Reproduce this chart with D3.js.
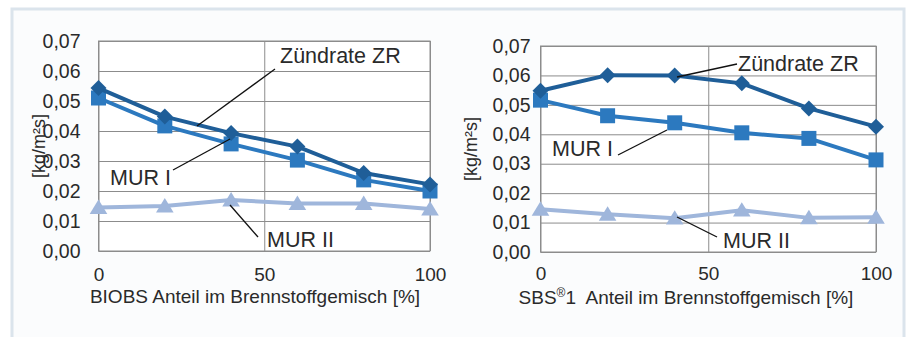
<!DOCTYPE html>
<html>
<head>
<meta charset="utf-8">
<script src="https://cdn.jsdelivr.net/npm/d3@7"></script>
<style>
  body { margin: 0; background: #fff; }
  svg text { font-family: "Liberation Sans", Arial, sans-serif; fill: #2a2a2a; white-space: pre; }
</style>
</head>
<body>
<div id="chart"></div>
<script>
// shares of the fuel mix [%]
var xValues = [0, 20, 40, 60, 80, 100];
var xTicks = [0, 50, 100];
var yTicks = [0, 0.01, 0.02, 0.03, 0.04, 0.05, 0.06, 0.07];

// left chart: BIOBS
var biobsZR = [0.0543, 0.0448, 0.0393, 0.0348, 0.0260, 0.0222];
var biobsMUR1 = [0.0510, 0.0417, 0.0357, 0.0303, 0.0237, 0.0200];
var biobsMUR2 = [0.0145, 0.0150, 0.0170, 0.0158, 0.0158, 0.0140];

// right chart: SBS 1
var sbsZR = [0.0548, 0.0601, 0.0600, 0.0573, 0.0488, 0.0426];
var sbsMUR1 = [0.0516, 0.0463, 0.0439, 0.0405, 0.0386, 0.0313];
var sbsMUR2 = [0.0145, 0.0128, 0.0115, 0.0142, 0.0116, 0.0118];

var seriesNames = ["Zündrate ZR", "MUR I", "MUR II"];
// each title as [before superscript, superscript, after]
var xTitles = [["BIOBS Anteil im Brennstoffgemisch [%]", "", ""],
               ["SBS", "\u00AE", "1  Anteil im Brennstoffgemisch [%]"]];
var yTitle = "[kg/m\u00B2s]";

var W = 907, H = 337;
var comma = d3.formatLocale({decimal: ",", thousands: ".", grouping: [3], currency: ["", "€"]}).format(".2f");

var colors = {zr: "#1f5e98", mur1: "#2c79bf", mur2: "#9fb6db"};

var svg = d3.select("#chart").append("svg")
  .attr("width", W).attr("height", H);

// outer panel frame
svg.append("rect")
  .attr("x", 12).attr("y", 9).attr("width", 892).attr("height", 340)
  .attr("fill", "#fbfcfd").attr("stroke", "#dbe4ec").attr("stroke-width", 3);

// marker shapes
function diamond(r) { return "M0," + (-r) + "L" + r + ",0L0," + r + "L" + (-r) + ",0Z"; }
function square(r) { return "M" + (-r) + "," + (-r) + "h" + (2 * r) + "v" + (2 * r) + "h" + (-2 * r) + "Z"; }
function triangle(r) { return "M0," + (-r) + "L" + (r * 1.1) + "," + (r * 0.8) + "L" + (-r * 1.1) + "," + (r * 0.8) + "Z"; }

function drawPanel(p) {
  var x = d3.scaleLinear().domain([0, 100]).range([p.left, p.right]);
  var y = d3.scaleLinear().domain([0, 0.07]).range([p.bottom, p.top]);
  var g = svg.append("g");

  g.append("rect")
    .attr("x", p.left).attr("y", p.top)
    .attr("width", p.right - p.left).attr("height", p.bottom - p.top)
    .attr("fill", "#fff").attr("stroke", "#8c8c8c");

  var ya = g.append("g")
    .attr("transform", "translate(" + p.left + ",0)")
    .call(d3.axisLeft(y).tickValues(yTicks).tickFormat(comma)
      .tickSize(-(p.right - p.left)).tickPadding(p.yPad));
  ya.select(".domain").remove();
  ya.selectAll("line").attr("stroke", "#8c8c8c");
  ya.selectAll("text").style("font-size", "19.5px");

  var xa = g.append("g")
    .attr("transform", "translate(0," + p.bottom + ")")
    .call(d3.axisBottom(x).tickValues(xTicks).tickFormat(d3.format("d"))
      .tickSize(-(p.bottom - p.top)).tickPadding(p.xPad));
  xa.select(".domain").remove();
  xa.selectAll("line").attr("stroke", "#8c8c8c");
  xa.selectAll("text").style("font-size", "19px");

  var t = g.append("text")
    .attr("x", p.titleX).attr("y", p.titleY)
    .attr("text-anchor", "middle").style("font-size", "19px");
  t.append("tspan").text(p.xTitle[0]);
  if (p.xTitle[1]) {
    t.append("tspan").attr("dy", -7).style("font-size", "12px").text(p.xTitle[1]);
    t.append("tspan").attr("dy", 7).text(p.xTitle[2]);
  }

  g.append("text")
    .attr("transform", "translate(" + p.yTitleX + "," + p.yTitleY + ") rotate(-90)")
    .attr("text-anchor", "middle").style("font-size", "18px")
    .text(yTitle);

  var line = d3.line().x(function(d, i) { return x(xValues[i]); }).y(function(d) { return y(d); });

  var series = [
    {values: p.mur2, color: colors.mur2, shape: triangle, r: 8},
    {values: p.mur1, color: colors.mur1, shape: square, r: 7.5},
    {values: p.zr, color: colors.zr, shape: diamond, r: 8}
  ];
  series.forEach(function(s) {
    g.append("path").datum(s.values)
      .attr("d", line).attr("fill", "none")
      .attr("stroke", s.color).attr("stroke-width", 4).attr("stroke-linejoin", "round");
    g.selectAll(null).data(s.values).enter().append("path")
      .attr("transform", function(d, i) { return "translate(" + x(xValues[i]) + "," + y(d) + ")"; })
      .attr("d", s.shape(s.r)).attr("fill", s.color);
  });

  // callouts
  p.labels.forEach(function(l, i) {
    g.append("line")
      .attr("x1", l.x1).attr("y1", l.y1).attr("x2", l.x2).attr("y2", l.y2)
      .attr("stroke", "#111").attr("stroke-width", 1.3);
    g.append("text").attr("x", l.tx).attr("y", l.ty)
      .style("font-size", "21.5px").text(seriesNames[i]);
  });
}

drawPanel({
  left: 98.5, right: 430, top: 41, bottom: 251, yPad: 18, xPad: 17,
  titleX: 255, titleY: 303, yTitleX: 45, yTitleY: 146, xTitle: xTitles[0],
  zr: biobsZR, mur1: biobsMUR1, mur2: biobsMUR2,
  labels: [
    {tx: 280, ty: 63, x1: 275, y1: 69, x2: 197, y2: 126},
    {tx: 110, ty: 185, x1: 173, y1: 170, x2: 230, y2: 139},
    {tx: 267, ty: 247, x1: 230, y1: 205, x2: 258, y2: 237}
  ]
});

drawPanel({
  left: 540.5, right: 876, top: 46, bottom: 252, yPad: 10, xPad: 15,
  titleX: 686, titleY: 304, yTitleX: 477, yTitleY: 149, xTitle: xTitles[1],
  zr: sbsZR, mur1: sbsMUR1, mur2: sbsMUR2,
  labels: [
    {tx: 738, ty: 71, x1: 737, y1: 64, x2: 677, y2: 77},
    {tx: 552, ty: 156, x1: 618, y1: 155, x2: 667, y2: 130},
    {tx: 723, ty: 248, x1: 677, y1: 217, x2: 717, y2: 237}
  ]
});
</script>
</body>
</html>
